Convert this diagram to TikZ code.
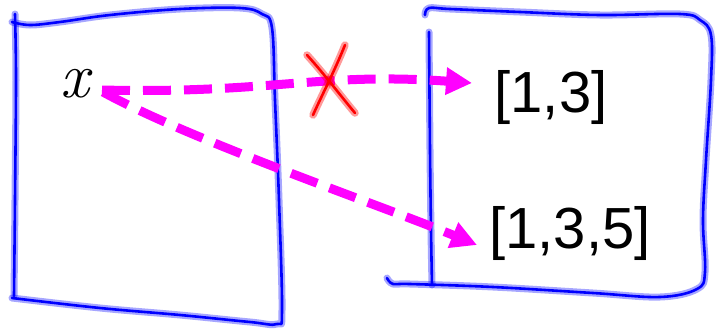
\documentclass[tikz,border=0pt]{standalone}
\usepackage{fontspec}
\newfontfamily\handfont{Liberation Sans}
\usetikzlibrary{arrows.meta,calc}
\definecolor{penpink}{RGB}{255,0,255}
\definecolor{penblue}{RGB}{0,0,255}
\definecolor{penred}{RGB}{255,0,0}
\tikzset{
  bluepen/.style={draw=penblue, line width=2.6pt, line cap=round, line join=round,
    preaction={draw=penblue, opacity=0.35, line width=7pt, line cap=round, line join=round}},
  redpen/.style={draw=penred, line width=2.6pt, line cap=round,
    preaction={draw=penred, opacity=0.4, line width=7.5pt, line cap=round}},
  pinkarrow/.style={draw=penpink, line width=9pt, dash pattern=on 28pt off 13pt,
    -{Triangle[length=26pt,width=26pt]}, fill=none},
  handtext/.style={text=black, font=\handfont\fontsize{58}{58}\selectfont, inner sep=0pt},
  vartext/.style={text=black, font=\fontsize{64}{64}\selectfont\itshape, inner sep=0pt}
}
\begin{document}
\begin{tikzpicture}[x=1pt,y=-1pt]
\useasboundingbox (0,0) rectangle (717,330);
% left box
\draw[bluepen] plot[smooth, tension=0.6] coordinates {(12,22) (30,25) (60,22) (110,15) (180,9) (240,8) (262,14) (272,28) (275,100) (279,200) (282,310) (277,324) (250,322) (180,315) (100,308) (12,298)};
\draw[bluepen] plot[smooth, tension=0.6] coordinates {(15,14) (16,80) (15,200) (14,296)};
% right box
\draw[bluepen] plot[smooth, tension=0.6] coordinates {(425,15) (429,8) (450,9) (520,12) (600,15) (680,14) (700,20) (711,35) (711,80) (706,160) (703,220) (705,272) (697,289) (660,297) (593,293) (493,287) (410,284) (393,284) (387,278)};
\draw[bluepen] plot[smooth, tension=0.6] coordinates {(429,32) (430,150) (431,230) (432,285)};
% texts
\node[vartext] (xnode) at (75,84) {x};
\node[handtext] (a13) at (551,97) {[1,3]};
\node[handtext] (a135) at (570,233) {[1,3,5]};
% arrows
\draw[pinkarrow] ($(xnode.center)+(27,6)$) .. controls (270,94) and (320,72) .. ($(a13.center)+(-79,-14)$);
\draw[pinkarrow] ($(xnode.center)+(28,8)$) .. controls (190,140) and (380,205) .. ($(a135.center)+(-93,12)$);
% cross
\draw[redpen] (307,55) .. controls (325,75) and (340,95) .. (355,113);
\draw[redpen] (345,45) .. controls (335,70) and (322,95) .. (313,115);
\end{tikzpicture}
\end{document}
